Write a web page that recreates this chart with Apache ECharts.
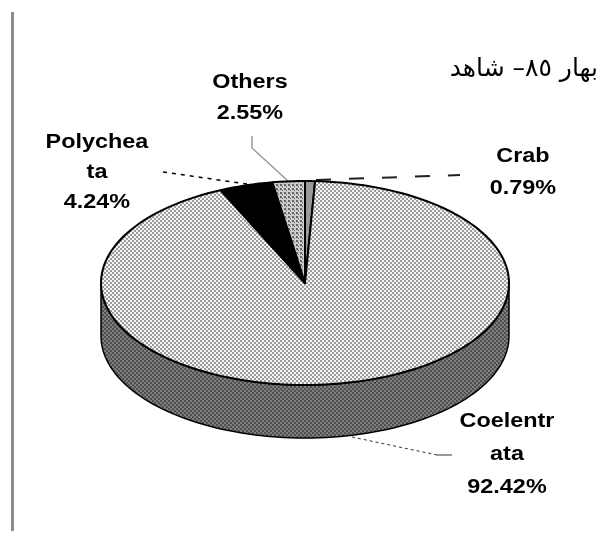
<!DOCTYPE html>
<html>
<head>
<meta charset="utf-8">
<style>
  html, body { margin: 0; padding: 0; background: #fff; }
  #chart { width: 601px; height: 533px; }
</style>
<script src="https://cdn.jsdelivr.net/npm/echarts@6/dist/echarts.min.js"></script>
</head>
<body>
<div id="chart"></div>
<script>
// slices, clockwise from 12 o'clock
const categories = ['Crab', 'Coelentrata', 'Polychaeta', 'Others']
const wrappedNames = ['Crab', 'Coelentr\nata', 'Polychea\nta', 'Others']
const shares = [0.79, 92.42, 4.24, 2.55]
const chartTitle = 'بهار ٨٥– شاهد'

// label anchor x, y and line height, same order as categories
const labelAt = [[523, 172, 32], [507, 454, 33], [97, 172, 30], [250, 98, 31]]

// the tilted pie
const cx = 305
const cy = 283
const rx = 204
const ry = 102
const depth = 53

function dots (bg, fg, size, cells) {
  const c = document.createElement('canvas')
  c.width = c.height = size
  const g = c.getContext('2d')
  g.fillStyle = bg
  g.fillRect(0, 0, size, size)
  g.fillStyle = fg
  cells.forEach(p => g.fillRect(p[0], p[1], p[2] || 1, p[3] || 1))
  return { image: c, repeat: 'repeat' }
}

const topFill = [
  '#9a9a9a',
  dots('#f4f4f4', '#9c9c9c', 4, [[0, 0, 2, 2], [2, 2, 2, 2]]),
  '#000',
  dots('#cccccc', '#666', 4, [[0, 0, 2, 2], [2, 2, 1, 1]])
]
const sideFill = dots('#7e7e7e', '#505050', 4, [[0, 0, 2, 2], [2, 2, 2, 2]])

function pointAt (deg, dy) {
  const a = deg * Math.PI / 180
  return [cx + rx * Math.sin(a), cy - ry * Math.cos(a) + (dy || 0)]
}

function arcPoints (from, to, dy) {
  const pts = []
  const n = Math.max(2, Math.ceil((to - from) / 2))
  for (let i = 0; i <= n; i++) pts.push(pointAt(from + (to - from) * i / n, dy))
  return pts
}

function renderSlice (params, api) {
  const total = shares.reduce((a, b) => a + b, 0)
  const before = shares.slice(0, params.dataIndex).reduce((a, b) => a + b, 0)
  const start = before / total * 360
  const end = (before + api.value(0)) / total * 360
  const at = labelAt[params.dataIndex]
  const children = []

  // only the front half of the rim shows
  const s = Math.max(start, 90)
  const e = Math.min(end, 270)
  if (e > s) {
    const upper = arcPoints(s, e, 0)
    const lower = arcPoints(s, e, depth).reverse()
    children.push({
      type: 'polygon',
      shape: { points: upper.concat(lower) },
      style: { fill: sideFill, stroke: '#000', lineWidth: 1.5 }
    })
  }
  children.push({
    type: 'polygon',
    shape: { points: [[cx, cy]].concat(arcPoints(start, end, 0)) },
    style: { fill: topFill[params.dataIndex], stroke: '#000', lineWidth: 2, lineJoin: 'round' }
  })
  children.push({
    type: 'text',
    x: at[0],
    y: at[1],
    scaleX: 1.17,
    z2: 10,
    style: {
      text: wrappedNames[params.dataIndex] + '\n' + api.value(0).toFixed(2) + '%',
      font: 'bold 20px "Liberation Sans"',
      lineHeight: at[2],
      fill: '#000',
      align: 'center',
      verticalAlign: 'middle'
    }
  })
  return { type: 'group', children }
}

function leader (points, color, width, dash) {
  return {
    type: 'polyline',
    shape: { points },
    style: { stroke: color, lineWidth: width, lineDash: dash, fill: null }
  }
}

const myChart = echarts.init(document.getElementById('chart'), null, { renderer: 'canvas' })

const option = {
  animation: false,
  backgroundColor: '#fff',
  graphic: [
    { type: 'rect', shape: { x: 11, y: 12, width: 3, height: 519 }, style: { fill: '#8c8c8c' } },
    leader([[316, 180], [460, 175]], '#222', 2, [15, 18]),
    leader([[252, 136], [252, 148], [288, 181]], '#999', 1.5),
    leader([[163, 172], [247, 184]], '#000', 1.5, [4, 5]),
    leader([[352, 437], [437, 455]], '#333', 1, [3, 3]),
    leader([[437, 455], [452, 455]], '#777', 1.5),
    {
      type: 'text',
      x: 598,
      y: 69,
      style: {
        text: chartTitle,
        font: '25px "DejaVu Sans"',
        fill: '#000',
        align: 'right',
        verticalAlign: 'middle'
      }
    }
  ],
  series: [
    {
      type: 'custom',
      coordinateSystem: 'none',
      renderItem: renderSlice,
      data: shares.map((v, i) => ({ name: categories[i], value: [v] }))
    }
  ]
}

option && myChart.setOption(option)
</script>
</body>
</html>
